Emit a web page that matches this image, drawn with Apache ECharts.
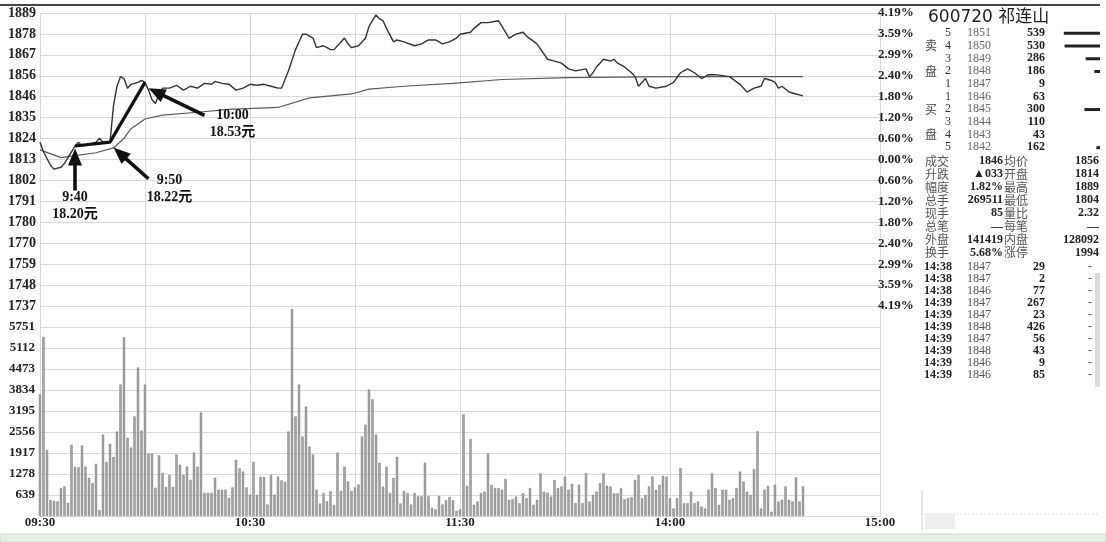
<!DOCTYPE html>
<html><head><meta charset="utf-8">
<script src="https://cdn.jsdelivr.net/npm/echarts@6/dist/echarts.min.js"></script>
<style>html,body{margin:0;padding:0;background:#fff}#c{width:1106px;height:542px}</style>
</head><body><div id="c"></div>
<script>
// ---------- data ----------
const preClose = 1813;
const priceTickLabels = ['1737','1748','1759','1770','1780','1791','1802','1813','1824','1835','1846','1856','1867','1878','1889'];
const pctTickLabels = ['4.19%','3.59%','2.99%','2.40%','1.80%','1.20%','0.60%','0.00%','0.60%','1.20%','1.80%','2.40%','2.99%','3.59%','4.19%'];
const volTickLabels = ['0','639','1278','1917','2556','3195','3834','4473','5112','5751','6390'];
const xTickLabels = ['09:30','10:30','11:30','14:00','15:00'];

const priceTimes = [
 '09:30','09:31','09:33','09:34','09:36','09:37','09:39','09:40','09:41','09:42',
 '09:44','09:46','09:47','09:48','09:50','09:51','09:52','09:53','09:54','09:55',
 '09:56','09:58','09:59','10:00','10:01','10:02','10:03','10:04','10:05','10:07',
 '10:09','10:11','10:13','10:15','10:17','10:19','10:20','10:22','10:24','10:26',
 '10:28','10:30','10:32','10:34','10:36','10:38','10:39','10:41','10:43','10:45',
 '10:46','10:48','10:49','10:51','10:52','10:53','10:54','10:56','10:57','10:58',
 '10:59','11:01','11:02','11:03','11:04','11:06','11:07','11:08','11:09','11:11',
 '11:12','11:14','11:17','11:19','11:21','11:23','11:25','11:27','11:29','11:30',
 '13:03','13:04','13:06','13:08','13:11','13:12','13:14','13:15','13:16','13:18',
 '13:19','13:22','13:25','13:27','13:29','13:31','13:33','13:36','13:37','13:38',
 '13:39','13:41','13:43','13:44','13:45','13:47','13:49','13:50','13:51','13:53',
 '13:54','13:56','13:59','14:01','14:03','14:05','14:07','14:09','14:11','14:13',
 '14:17','14:20','14:22','14:24','14:26','14:27','14:29','14:30','14:31','14:32',
 '14:34','14:36','14:38'];
const priceValues = [
 1822,1817,1810,1808,1809,1811,1817,1820,1822,1820,
 1821,1822,1824,1822,1822,1841,1851,1856,1855,1850,
 1852,1853,1854,1853,1849,1844,1842,1847,1850,1850,
 1851.5,1849,1851,1850,1852.5,1852,1853.5,1852.5,1852,1849,
 1850,1852,1851.5,1852,1851,1850,1850,1859,1870,1878,
 1878,1876,1871,1872,1871,1870,1870,1874,1876,1873,
 1871,1872,1874,1876,1882,1888,1886,1885,1881,1874,
 1875,1874,1872,1873,1875,1875,1873,1874,1876,1878,
 1879,1881,1884,1884,1885,1882,1876,1877,1878,1879,
 1877,1873,1865,1864,1863,1860,1859,1860,1856,1858,
 1861,1865,1864,1865,1863,1861,1858,1856,1851,1855,
 1851,1850,1851,1853,1858,1860,1858,1855,1857,1857,
 1856,1852,1848,1850,1851,1855,1854,1853,1850,1851,
 1848,1847,1846];

const avgTimes  = ['09:30','09:36','09:40','09:46','09:51','09:54','09:56','10:00','10:05','10:15','10:24','10:38','10:47','10:59','11:04','11:14','11:28','13:12','13:31','14:00','14:38'];
const avgValues = [1818,1814,1815,1816.5,1819,1824,1829,1834,1836,1837.5,1839,1840,1845,1847,1849.5,1851,1852.5,1854.5,1855.5,1856,1856];

// volume per minute from 09:30 (index 0) to 14:38
const volumes = [
 3700,5450,2000,490,460,440,850,900,400,2170,
 1500,1480,2140,1500,1160,1000,1590,180,2480,1650,
 2200,1800,2570,4000,5440,2380,2080,3030,4520,2600,
 4000,1900,1900,860,1850,1310,880,1250,880,1870,
 1560,1250,1500,1100,1930,1500,3150,700,700,700,
 1160,800,800,800,550,870,1710,1450,1350,870,
 650,1650,640,1190,1190,350,1250,650,1200,1080,
 1040,2570,6300,3030,4000,2420,3330,2110,1870,800,
 380,700,450,750,330,1930,760,1500,1050,760,
 870,960,2420,2780,3850,3550,2480,1620,890,1500,
 700,1160,1800,380,760,700,350,700,600,600,
 1620,600,250,200,610,350,480,580,480,150,
 200,3090,920,2340,340,440,700,740,1900,950,
 850,850,800,1130,490,510,590,390,690,540,
 850,340,490,1300,740,710,590,1100,850,900,
 1200,800,980,390,950,390,1300,440,640,740,
 1000,1300,920,900,690,690,850,510,540,570,
 1100,1250,540,640,900,1200,800,950,1220,1200,
 540,230,540,1460,390,390,740,390,440,280,
 230,800,1300,850,340,800,800,490,540,850,
 1350,1050,740,640,1430,2580,230,800,920,130,
 950,440,490,900,490,440,1180,440,900];

// annotation (hand-drawn bold line and callouts)
const annotTimes  = ['09:40','09:50','10:00'];
const annotPrices = [1820,1822,1853];
const annotTexts  = ['9:40\n18.20元','9:50\n18.22元','10:00\n18.53元'];

// right quote panel
const stockTitle = '600720 祁连山';
const bookSide   = ['','卖','','盘','','','买','','盘',''];
const bookLevels = ['5','4','3','2','1','1','2','3','4','5'];
const bookPrices = ['1851','1850','1849','1848','1847','1846','1845','1844','1843','1842'];
const bookVols   = [539,530,286,186,9,63,300,110,43,162];
const statsRows = [
 ['成交','1846','均价','1856'],
 ['升跌','▲033','开盘','1814'],
 ['幅度','1.82%','最高','1889'],
 ['总手','269511','最低','1804'],
 ['现手','85','量比','2.32'],
 ['总笔','—','每笔','—'],
 ['外盘','141419','内盘','128092'],
 ['换手','5.68%','涨停','1994']];
const tradeTimes  = ['14:38','14:38','14:38','14:39','14:39','14:39','14:39','14:39','14:39','14:39'];
const tradePrices = ['1847','1847','1846','1847','1847','1848','1847','1848','1846','1846'];
const tradeVols   = ['29','2','77','267','23','426','56','43','9','85'];

// ---------- build ----------
const minutes = (() => {
  const a = [], f = t => String(Math.floor(t/60)).padStart(2,'0') + ':' + String(t%60).padStart(2,'0');
  for (let t = 9*60+30; t <= 11*60+30; t++) a.push(f(t));
  for (let t = 13*60+1; t <= 15*60; t++) a.push(f(t));
  return a;
})();
const idx = t => minutes.indexOf(t);
const step = preClose / 167;          // 0.6% row step, 1813 = 167 steps
const pMin = 160 * step, pMax = 174 * step;
const rowOf = v => Math.round((v - pMin) / step);

const serif = '"Liberation Serif","DejaVu Serif","Noto Sans CJK SC",serif';
const cjk = '"Noto Sans CJK SC",sans-serif';
const gridColor = '#d9d9d9';

const xCommon = {
  type: 'category', data: minutes, boundaryGap: false,
  axisLine: {show: false}, axisTick: {show: false},
  splitLine: {show: true, interval: (i) => i % 30 === 0, lineStyle: {color: gridColor, width: 1}}
};

function txt(x, y, text, st) {
  return {type: 'text', x: x, y: y, silent: true, z: 100,
    style: Object.assign({text: text, fill: '#222', font: 'bold 12px ' + serif,
      textAlign: 'left', textVerticalAlign: 'middle', align: 'left', verticalAlign: 'middle'}, st || {})};
}
const R = {textAlign: 'right', align: 'right'};
const C = {textAlign: 'center', align: 'center'};
const graphics = [];
graphics.push({type: 'line', silent: true, shape: {x1: 0, y1: 5, x2: 1100, y2: 5}, style: {stroke: '#444', lineWidth: 2}});
graphics.push({type: 'rect', silent: true, shape: {x: 0, y: 534, width: 1106, height: 8}, style: {fill: '#e2f2e2', stroke: '#c3e2c3', lineWidth: 1}});
graphics.push(txt(928, 18, stockTitle, {font: '17px "DejaVu Sans","Noto Sans CJK SC",sans-serif', fill: '#222'}));
for (let k = 0; k < 10; k++) {
  const y = 33 + k * 12.7;
  if (bookSide[k]) graphics.push(txt(925, y, bookSide[k], {font: '12px ' + cjk, fill: '#444'}));
  graphics.push(txt(948, y, bookLevels[k], Object.assign({font: '12px ' + serif, fill: '#333'}, C)));
  graphics.push(txt(979, y, bookPrices[k], Object.assign({font: '12px ' + serif, fill: '#666'}, C)));
  graphics.push(txt(1045, y, String(bookVols[k]), R));
}
for (let k = 0; k < statsRows.length; k++) {
  const y = 161 + k * 13.1, r = statsRows[k];
  graphics.push(txt(925, y, r[0], {font: '12px ' + cjk, fill: '#555'}));
  graphics.push(txt(1003, y, r[1], R));
  graphics.push(txt(1004, y, r[2], {font: '12px ' + cjk, fill: '#555'}));
  graphics.push(txt(1099, y, r[3], R));
}
for (let k = 0; k < tradeTimes.length; k++) {
  const y = 267 + k * 12;
  graphics.push(txt(924, y, tradeTimes[k]));
  graphics.push(txt(979, y, tradePrices[k], Object.assign({font: '12px ' + serif, fill: '#555'}, C)));
  graphics.push(txt(1045, y, tradeVols[k], R));
  graphics.push(txt(1090, y, '-', Object.assign({font: '12px ' + serif, fill: '#555'}, C)));
}
graphics.push({type: 'rect', silent: true, shape: {x: 1095, y: 273, width: 5, height: 114}, style: {fill: '#dcdcdc'}});
graphics.push({type: 'line', silent: true, shape: {x1: 922, y1: 490, x2: 922, y2: 530}, style: {stroke: '#ccc', lineWidth: 1}});
graphics.push({type: 'line', silent: true, shape: {x1: 924, y1: 514, x2: 1100, y2: 514}, style: {stroke: '#ddd', lineWidth: 1, lineDash: [2, 2]}});
graphics.push({type: 'rect', silent: true, shape: {x: 925, y: 513, width: 30, height: 16}, style: {fill: '#eeeeee'}});

const labelFont = {fontFamily: serif, fontWeight: 'bold', color: '#222'};

const option = {
  animation: false,
  backgroundColor: '#ffffff',
  grid: [
    {left: 40, top: 13, width: 840, height: 293, outerBoundsMode: 'none'},
    {left: 40, top: 306, width: 840, height: 210, outerBoundsMode: 'none'},
    {left: 1062, top: 27, width: 38, height: 127, outerBoundsMode: 'none'}
  ],
  xAxis: [
    Object.assign({}, xCommon, {gridIndex: 0, axisLabel: {show: false}}),
    Object.assign({}, xCommon, {gridIndex: 1,
      axisLabel: Object.assign({show: true, interval: (i, v) => xTickLabels.indexOf(v) >= 0, margin: 0, fontSize: 13}, labelFont)}),
    {type: 'value', gridIndex: 2, min: 120, max: 560, inverse: true, show: false}
  ],
  yAxis: [
    {type: 'value', gridIndex: 0, min: pMin, max: pMax, interval: step, position: 'left',
     axisLine: {show: false}, axisTick: {show: false},
     axisLabel: Object.assign({margin: 4, fontSize: 14, formatter: v => priceTickLabels[rowOf(v)] || ''}, labelFont),
     splitLine: {show: true, lineStyle: {color: gridColor, width: 1}}},
    {type: 'value', gridIndex: 0, min: pMin, max: pMax, interval: step, position: 'right',
     axisLine: {show: false}, axisTick: {show: false},
     axisLabel: Object.assign({margin: -2, fontSize: 13, formatter: v => pctTickLabels[14 - rowOf(v)] || ''}, labelFont),
     splitLine: {show: false}},
    {type: 'value', gridIndex: 1, min: 0, max: 6390, interval: 639, position: 'left',
     axisLine: {show: false}, axisTick: {show: false},
     axisLabel: Object.assign({margin: 5, fontSize: 13, showMinLabel: false, showMaxLabel: false,
       formatter: v => volTickLabels[Math.round(v / 639)] || ''}, labelFont),
     splitLine: {show: true, lineStyle: {color: gridColor, width: 1}}},
    {type: 'category', gridIndex: 2, data: bookPrices, inverse: true, show: false}
  ],
  series: [
    {type: 'bar', name: 'vol', xAxisIndex: 1, yAxisIndex: 2, data: volumes, barWidth: 2.4,
     itemStyle: {color: '#a3a3a3', borderColor: '#7a7a7a', borderWidth: 0.4}, silent: true},
    {type: 'line', name: 'avg', xAxisIndex: 0, yAxisIndex: 0, showSymbol: false, symbol: 'none', silent: true,
     data: avgTimes.map((t, i) => [idx(t), avgValues[i]]),
     lineStyle: {color: '#5a5a5a', width: 1.2}},
    {type: 'line', name: 'price', xAxisIndex: 0, yAxisIndex: 0, showSymbol: false, symbol: 'none', silent: true,
     data: priceTimes.map((t, i) => [idx(t), priceValues[i]]),
     lineStyle: {color: '#333', width: 1.4}},
    {type: 'line', name: 'annot', xAxisIndex: 0, yAxisIndex: 0, showSymbol: false, symbol: 'none', silent: true, z: 5,
     data: annotTimes.map((t, i) => [idx(t), annotPrices[i]]),
     lineStyle: {color: '#111', width: 3.2},
     markPoint: {silent: true, symbol: 'circle', symbolSize: 1, itemStyle: {color: 'rgba(0,0,0,0)'}, animation: false,
       label: {show: true, position: 'inside', fontFamily: serif, fontWeight: 'bold', fontSize: 14, lineHeight: 17, color: '#111'},
       data: [
         {coord: [idx('09:40'), 1789], label: {formatter: annotTexts[0]}},
         {coord: [idx('10:07'), 1798], label: {formatter: annotTexts[1]}},
         {coord: [idx('10:25'), 1831.7], label: {formatter: annotTexts[2]}}
       ]}},
    {type: 'bar', name: 'book', xAxisIndex: 2, yAxisIndex: 3, data: bookVols, barWidth: 3, clip: true, silent: true,
     itemStyle: {color: '#222'}}
  ]
};
const chart = echarts.init(document.getElementById('c'));
chart.setOption(option);

// callout arrows positioned in data space (tail -> tip)
const arrowDefs = [
  [['09:40', 1796.9], ['09:40', 1818.7]],
  [['10:01', 1803.0], ['09:51', 1819.2]],
  [['10:17', 1835.9], ['10:01', 1849.9]]
];
arrowDefs.forEach(([a, b]) => {
  const p0 = chart.convertToPixel({gridIndex: 0}, [idx(a[0]), a[1]]);
  const p1 = chart.convertToPixel({gridIndex: 0}, [idx(b[0]), b[1]]);
  const dx = p1[0] - p0[0], dy = p1[1] - p0[1], L = Math.hypot(dx, dy);
  const ux = dx / L, uy = dy / L, head = 17, hw = 7;
  const bx = p1[0] - ux * head, by = p1[1] - uy * head;
  graphics.push({type: 'line', silent: true, z: 90, shape: {x1: p0[0], y1: p0[1], x2: bx + ux * 2, y2: by + uy * 2},
    style: {stroke: '#111', lineWidth: 3.6}});
  graphics.push({type: 'polygon', silent: true, z: 90,
    shape: {points: [[p1[0], p1[1]], [bx - uy * hw, by + ux * hw], [bx + uy * hw, by - ux * hw]]},
    style: {fill: '#111'}});
});
chart.setOption({graphic: graphics});
</script></body></html>
